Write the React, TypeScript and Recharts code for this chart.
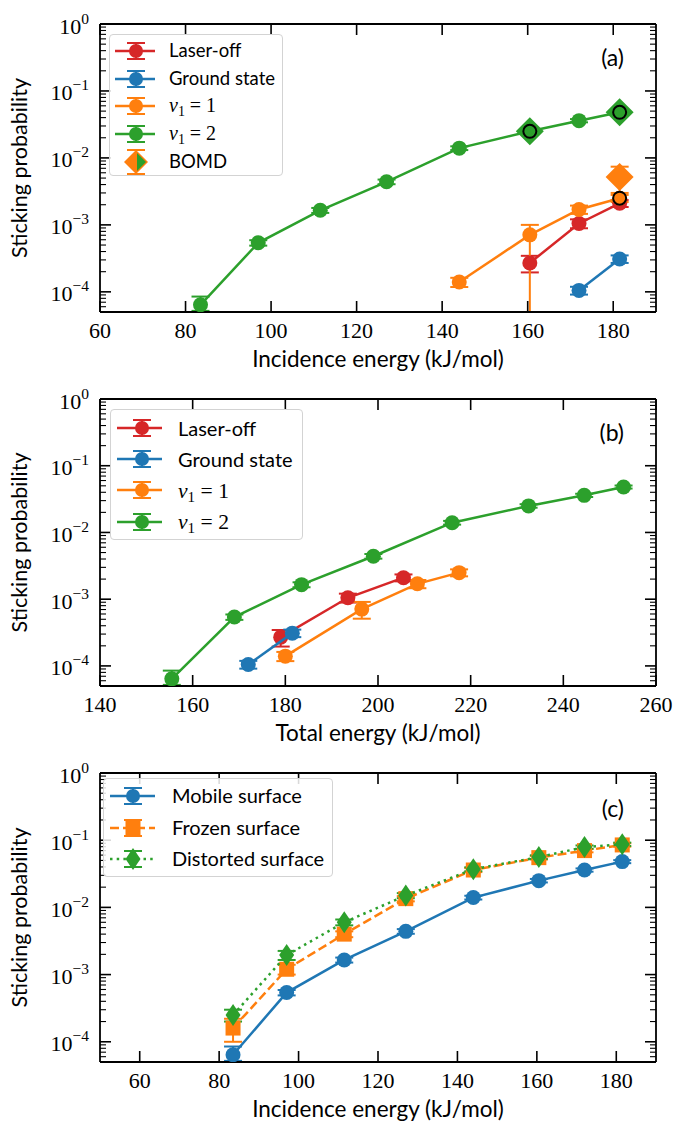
import React from "react";
import { ComposedChart, Scatter, XAxis, YAxis, ErrorBar, Legend } from "recharts";

const RED = "#d62728";
const BLUE = "#1f77b4";
const ORANGE = "#ff7f0e";
const GREEN = "#2ca02c";
const SERIF = "'Liberation Serif', 'DejaVu Serif', serif";
const SANS = "Lato, 'Noto Sans', sans-serif";

// (a) incidence energy, kJ/mol
const incV2 = [83.5, 97, 111.5, 127, 144, 160.5, 172, 181.5];
const incV1 = [144, 160.5, 172, 181.5];
const incOff = [160.5, 172, 181.5];
const incGround = [172, 181.5];

// sticking probabilities (shared by (a) and (b))
const probV2 = [6.4e-5, 5.4e-4, 1.65e-3, 4.4e-3, 1.4e-2, 2.5e-2, 3.6e-2, 4.8e-2];
const errV2Lo = [1.2e-5, 5e-5, 1.4e-4, 3.5e-4, 9e-4, 1.5e-3, 2e-3, 2.5e-3];
const errV2Hi = [2.1e-5, 5e-5, 1.4e-4, 3.5e-4, 9e-4, 1.5e-3, 2e-3, 2.5e-3];
const probV1 = [1.4e-4, 7.1e-4, 1.7e-3, 2.5e-3];
const errV1Lo = [2.2e-5, 6.6e-4, 2.4e-4, 3e-4];
const errV1Hi = [2.2e-5, 2.9e-4, 2.4e-4, 3e-4];
const errV1Tot = [2.2e-5, 2e-4, 2.4e-4, 3e-4];
const probOff = [2.7e-4, 1.05e-3, 2.1e-3];
const errOff = [7.5e-5, 1.6e-4, 2.5e-4];
const probGround = [1.05e-4, 3.1e-4];
const errGround = [1.4e-5, 4e-5];

// BOMD points and highlighted points in (a)
const bomdIncV2 = [160.5, 181.5];
const bomdProbV2 = [2.5e-2, 4.8e-2];
const bomdIncV1 = [181.5];
const bomdProbV1 = [5.2e-3];
const bomdErrV1 = [2.2e-3];
const ringInc = [160.5, 181.5, 181.5];
const ringProb = [2.5e-2, 4.8e-2, 2.5e-3];

// (b) total energy, kJ/mol
const totV2 = [155.5, 169, 183.5, 199, 216, 232.5, 244.5, 253];
const totV1 = [180, 196.5, 208.5, 217.5];
const totOff = [179, 193.5, 205.5];
const totGround = [172, 181.5];

// (c) surface models
const probFrozen = [1.6e-4, 1.2e-3, 4.0e-3, 1.35e-2, 3.6e-2, 5.5e-2, 7.0e-2, 8.5e-2];
const errFrozen = [6e-5, 2e-4, 4e-4, 1.2e-3, 2.5e-3, 3.5e-3, 4e-3, 5e-3];
const probDistorted = [2.5e-4, 1.95e-3, 6.0e-3, 1.5e-2, 3.7e-2, 5.6e-2, 7.9e-2, 8.7e-2];
const errDistorted = [5e-5, 3e-4, 6e-4, 1.3e-3, 2.5e-3, 3.5e-3, 4.5e-3, 5e-3];

// axes
const yTicks = [
  6e-5, 7e-5, 8e-5, 9e-5,
  1e-4, 2e-4, 3e-4, 4e-4, 5e-4, 6e-4, 7e-4, 8e-4, 9e-4,
  1e-3, 2e-3, 3e-3, 4e-3, 5e-3, 6e-3, 7e-3, 8e-3, 9e-3,
  1e-2, 2e-2, 3e-2, 4e-2, 5e-2, 6e-2, 7e-2, 8e-2, 9e-2,
  1e-1, 2e-1, 3e-1, 4e-1, 5e-1, 6e-1, 7e-1, 8e-1, 9e-1,
  1,
];
const ticksInc = [60, 80, 100, 120, 140, 160, 180];
const ticksTot = [140, 160, 180, 200, 220, 240, 260];

const pts = (xs: number[], ys: number[], lo?: number[], hi?: number[]) =>
  xs.map((x, i) => ({
    x,
    y: ys[i],
    err: [lo ? lo[i] : 0, hi ? hi[i] : lo ? lo[i] : 0],
  }));

const AX = { stroke: "#000", strokeWidth: 1.8 };

const isMajor = (v: number) => {
  const l = Math.log10(v);
  return Math.abs(l - Math.round(l)) < 1e-6;
};

function XTick(props: any) {
  const { x, y, payload } = props;
  return (
    <g>
      <line x1={x} x2={x} y1={y} y2={y - 11} stroke="#000" strokeWidth={1.6} />
      <text x={x} y={y + 26} textAnchor="middle" fontFamily={SERIF} fontSize={22} fill="#000">
        {payload.value}
      </text>
    </g>
  );
}

function XTickTop(props: any) {
  const { x, y } = props;
  return <line x1={x} x2={x} y1={y} y2={y + 11} stroke="#000" strokeWidth={1.6} />;
}

function YTick(props: any) {
  const { x, y, payload } = props;
  const major = isMajor(payload.value);
  const e = Math.round(Math.log10(payload.value));
  return (
    <g>
      <line x1={x} x2={x + (major ? 11 : 6)} y1={y} y2={y} stroke="#000" strokeWidth={major ? 1.6 : 1.1} />
      {major && (
        <text x={x - 11} y={y + 9.5} textAnchor="end" fontFamily={SERIF} fontSize={22} fill="#000">
          <tspan>10</tspan>
          <tspan dy={-10} fontSize={15.5}>{e === 0 ? "0" : "\u2212" + Math.abs(e)}</tspan>
        </text>
      )}
    </g>
  );
}

function YTickRight(props: any) {
  const { x, y, payload } = props;
  const major = isMajor(payload.value);
  return (
    <line x1={x} x2={x - (major ? 11 : 6)} y1={y} y2={y} stroke="#000" strokeWidth={major ? 1.6 : 1.1} />
  );
}

function Title(props: any) {
  const { text, tx, ty, rotate, size, anchor } = props;
  return (
    <text
      x={tx}
      y={ty}
      textAnchor={anchor || "middle"}
      fontFamily={SANS}
      fontSize={size}
      fill="#000"
      transform={rotate ? `rotate(-90, ${tx}, ${ty})` : undefined}
    >
      {text}
    </text>
  );
}

// markers
const circle = (c: string) => (p: any) => <circle cx={p.cx} cy={p.cy} r={7.5} fill={c} />;
const square = (c: string) => (p: any) => (
  <rect x={p.cx - 7.5} y={p.cy - 7.5} width={15} height={15} fill={c} />
);
const thinDiamond = (c: string) => (p: any) => (
  <polygon
    points={`${p.cx},${p.cy - 11} ${p.cx + 7.5},${p.cy} ${p.cx},${p.cy + 11} ${p.cx - 7.5},${p.cy}`}
    fill={c}
  />
);
const bigDiamond = (c: string) => (p: any) => (
  <polygon
    points={`${p.cx},${p.cy - 14} ${p.cx + 14},${p.cy} ${p.cx},${p.cy + 14} ${p.cx - 14},${p.cy}`}
    fill={c}
  />
);
const ring = (p: any) => <circle cx={p.cx} cy={p.cy} r={6.5} fill="none" stroke="#000" strokeWidth={2} />;

function series(key: string, data: any[], color: string, shape: any, dash?: string) {
  return (
    <Scatter
      key={key}
      data={data}
      fill={color}
      isAnimationActive={false}
      line={{ stroke: color, strokeWidth: 2.5, strokeDasharray: dash }}
      lineType="joint"
      shape={shape}
    >
      <ErrorBar dataKey="err" direction="y" width={9} stroke={color} strokeWidth={2} />
    </Scatter>
  );
}

type Entry = { label: React.ReactNode; color: string; marker: string; dash?: string };

function Icon({ e, w, mx }: { e: Entry; w: number; mx: number }) {
  const cy = 14;
  let m: React.ReactNode = null;
  if (e.marker === "circle") m = <circle cx={mx} cy={cy} r={7} fill={e.color} />;
  if (e.marker === "square") m = <rect x={mx - 7.5} y={cy - 7.5} width={15} height={15} fill={e.color} />;
  if (e.marker === "thin")
    m = (
      <polygon
        points={`${mx},${cy - 11} ${mx + 7.5},${cy} ${mx},${cy + 11} ${mx - 7.5},${cy}`}
        fill={e.color}
      />
    );
  if (e.marker === "bomd")
    m = (
      <g>
        <polygon
          points={`${mx},${cy - 12} ${mx + 12},${cy} ${mx},${cy + 12} ${mx - 12},${cy}`}
          fill={ORANGE}
        />
        <polygon points={`${mx + 1},${cy - 9} ${mx + 10},${cy} ${mx + 1},${cy + 9}`} fill={GREEN} />
      </g>
    );
  const capH = e.marker === "bomd" ? 12 : 8;
  return (
    <svg width={w} height={28} style={{ display: "block", overflow: "visible" }}>
      {e.marker !== "bomd" && (
        <line x1={0} x2={w} y1={cy} y2={cy} stroke={e.color} strokeWidth={2.5} strokeDasharray={e.dash} />
      )}
      <line x1={mx} x2={mx} y1={cy - capH} y2={cy + capH} stroke={e.color} strokeWidth={2} />
      <line x1={mx - 9} x2={mx + 9} y1={cy - capH} y2={cy - capH} stroke={e.color} strokeWidth={2} />
      <line x1={mx - 9} x2={mx + 9} y1={cy + capH} y2={cy + capH} stroke={e.color} strokeWidth={2} />
      {m}
    </svg>
  );
}

function LegendBox(props: any) {
  const { entries, w, h, rowH, padTop, iconX, iconW, markX, textX, fontSize } = props;
  return (
    <div
      style={{
        width: w,
        height: h,
        boxSizing: "border-box",
        border: "1px solid #d3d3d3",
        borderRadius: 4,
        background: "rgba(255,255,255,0.85)",
        paddingTop: padTop,
      }}
    >
      {(entries as Entry[]).map((e, i) => (
        <div key={i} style={{ position: "relative", height: rowH }}>
          <div style={{ position: "absolute", left: iconX - 1, top: rowH / 2 - 14 }}>
            <Icon e={e} w={iconW} mx={markX} />
          </div>
          <div
            style={{
              position: "absolute",
              left: textX - 1,
              top: 0,
              lineHeight: rowH + "px",
              fontFamily: SANS,
              fontSize,
              color: "#000",
              whiteSpace: "nowrap",
            }}
          >
            {e.label}
          </div>
        </div>
      ))}
    </div>
  );
}

const vLabel = (n: number) => (
  <span style={{ fontFamily: SERIF, fontSize: "1.08em" }}>
    <i>v</i>
    <span style={{ fontSize: "0.7em", position: "relative", top: "0.25em" }}>1</span>
    {" = " + n}
  </span>
);

const entriesA: Entry[] = [
  { label: "Laser-off", color: RED, marker: "circle" },
  { label: "Ground state", color: BLUE, marker: "circle" },
  { label: vLabel(1), color: ORANGE, marker: "circle" },
  { label: vLabel(2), color: GREEN, marker: "circle" },
  { label: "BOMD", color: ORANGE, marker: "bomd" },
];
const entriesC: Entry[] = [
  { label: "Mobile surface", color: BLUE, marker: "circle" },
  { label: "Frozen surface", color: ORANGE, marker: "square", dash: "9 4" },
  { label: "Distorted surface", color: GREEN, marker: "thin", dash: "2.5 4.2" },
];

function Panel(props: any) {
  const { height, top, xDomain, xTicks, xTitle, letter, letterY, legend, children } = props;
  const bottom = height - 60;
  return (
    <div style={{ position: "relative", width: 675, height }}>
      <ComposedChart width={675} height={height} margin={{ top: top - 1, right: 18, bottom: 0, left: 0 }}>
        <XAxis
          xAxisId={0}
          type="number"
          dataKey="x"
          domain={xDomain}
          ticks={xTicks}
          interval={0}
          allowDataOverflow
          height={60}
          axisLine={AX}
          tickLine={false}
          tickSize={0}
          tickMargin={0}
          tick={(p: any) => <XTick {...p} />}
          label={<Title text={xTitle} tx={378} ty={bottom + 55} size={22.5} />}
        />
        <XAxis
          xAxisId="top"
          orientation="top"
          type="number"
          dataKey="x"
          domain={xDomain}
          ticks={xTicks}
          interval={0}
          allowDataOverflow
          height={1}
          axisLine={AX}
          tickLine={false}
          tickSize={0}
          tickMargin={0}
          tick={(p: any) => <XTickTop {...p} />}
          label={<Title text={letter} tx={624} ty={letterY} size={23} anchor="end" />}
        />
        <YAxis
          yAxisId={0}
          type="number"
          dataKey="y"
          scale="log"
          domain={[5e-5, 1]}
          ticks={yTicks}
          interval={0}
          allowDataOverflow
          width={100}
          axisLine={AX}
          tickLine={false}
          tickSize={0}
          tickMargin={0}
          tick={(p: any) => <YTick {...p} />}
          label={<Title text="Sticking probability" tx={27} ty={(top + bottom) / 2} size={21.5} rotate />}
        />
        <YAxis
          yAxisId="right"
          orientation="right"
          type="number"
          dataKey="y"
          scale="log"
          domain={[5e-5, 1]}
          ticks={yTicks}
          interval={0}
          allowDataOverflow
          width={1}
          axisLine={AX}
          tickLine={false}
          tickSize={0}
          tickMargin={0}
          tick={(p: any) => <YTickRight {...p} />}
        />
        {legend}
        {children}
      </ComposedChart>
    </div>
  );
}

export default function App() {
  return (
    <div style={{ position: "absolute", left: 0, top: 0, width: 675, height: 1123, background: "#fff" }}>
      <Panel
        height={372}
        top={24}
        xDomain={[60, 190]}
        xTicks={ticksInc}
        xTitle="Incidence energy (kJ/mol)"
        letter="(a)"
        letterY={66}
        legend={
          <Legend
            layout="vertical"
            align="center"
            verticalAlign="middle"
            wrapperStyle={{ top: 34, left: 109, width: "auto" }}
            content={() => (
              <LegendBox entries={entriesA} w={174} h={142} rowH={27.7} padTop={2}
                iconX={6} iconW={40} markX={21} textX={60} fontSize={18.5} />
            )}
          />
        }
      >
        <Scatter data={pts(bomdIncV2, bomdProbV2)} fill={GREEN} isAnimationActive={false} shape={bigDiamond(GREEN)} />
        <Scatter data={pts(bomdIncV1, bomdProbV1, bomdErrV1)} fill={ORANGE} isAnimationActive={false} shape={bigDiamond(ORANGE)}>
          <ErrorBar dataKey="err" direction="y" width={9} stroke={ORANGE} strokeWidth={2} />
        </Scatter>
        {series("off", pts(incOff, probOff, errOff), RED, circle(RED))}
        {series("gs", pts(incGround, probGround, errGround), BLUE, circle(BLUE))}
        {series("v1", pts(incV1, probV1, errV1Lo, errV1Hi), ORANGE, circle(ORANGE))}
        {series("v2", pts(incV2, probV2, errV2Lo, errV2Hi), GREEN, circle(GREEN))}
        <Scatter data={pts(ringInc, ringProb)} fill="none" isAnimationActive={false} shape={ring} />
      </Panel>
      <Panel
        height={374}
        top={27}
        xDomain={[140, 260]}
        xTicks={ticksTot}
        xTitle="Total energy (kJ/mol)"
        letter="(b)"
        letterY={69}
        legend={
          <Legend
            layout="vertical"
            align="center"
            verticalAlign="middle"
            wrapperStyle={{ top: 37, left: 110, width: "auto" }}
            content={() => (
              <LegendBox entries={entriesA.slice(0, 4)} w={193} h={131} rowH={31.1} padTop={2.7}
                iconX={7} iconW={45} markX={25} textX={68} fontSize={20} />
            )}
          />
        }
      >
        {series("off", pts(totOff, probOff, errOff), RED, circle(RED))}
        {series("gs", pts(totGround, probGround, errGround), BLUE, circle(BLUE))}
        {series("v1", pts(totV1, probV1, errV1Tot), ORANGE, circle(ORANGE))}
        {series("v2", pts(totV2, probV2, errV2Lo, errV2Hi), GREEN, circle(GREEN))}
      </Panel>
      <Panel
        height={376}
        top={27}
        xDomain={[50, 190]}
        xTicks={ticksInc}
        xTitle="Incidence energy (kJ/mol)"
        letter="(c)"
        letterY={71}
        legend={
          <Legend
            layout="vertical"
            align="center"
            verticalAlign="middle"
            wrapperStyle={{ top: 32, left: 103, width: "auto" }}
            content={() => (
              <LegendBox entries={entriesC} w={230} h={99} rowH={31.5} padTop={1.3}
                iconX={7} iconW={45} markX={23} textX={69} fontSize={20} />
            )}
          />
        }
      >
        {series("mob", pts(incV2, probV2, errV2Lo, errV2Hi), BLUE, circle(BLUE))}
        {series("fro", pts(incV2, probFrozen, errFrozen), ORANGE, square(ORANGE), "9 4")}
        {series("dis", pts(incV2, probDistorted, errDistorted), GREEN, thinDiamond(GREEN), "2.5 4.2")}
      </Panel>
    </div>
  );
}
